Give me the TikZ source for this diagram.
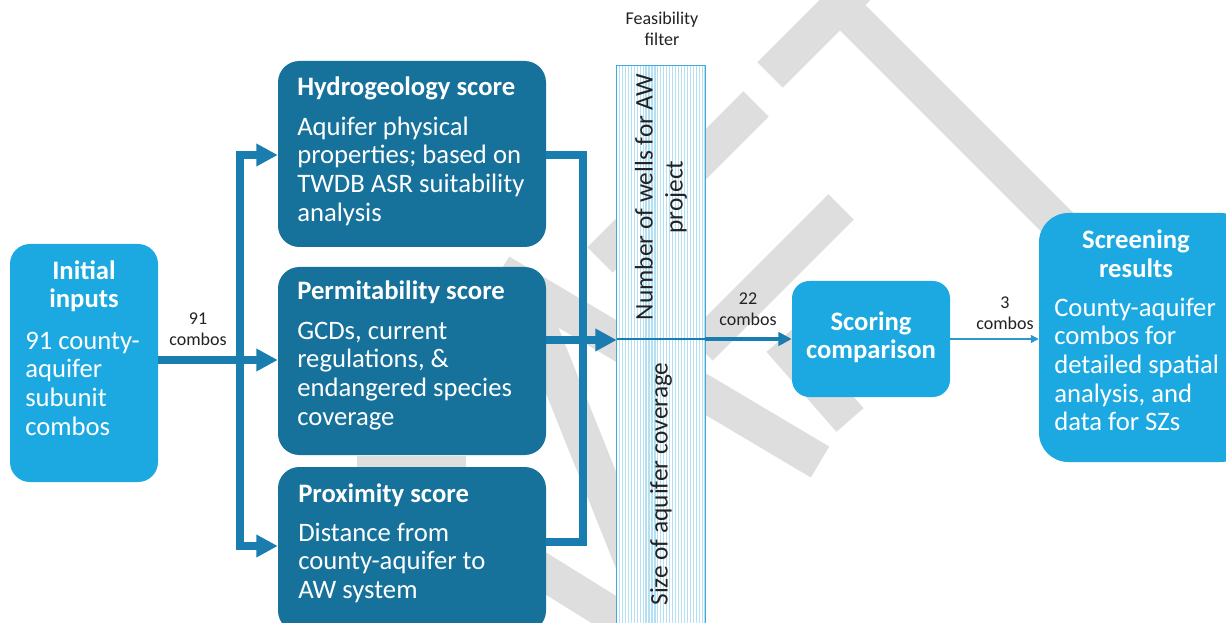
\documentclass[tikz,border=0pt]{standalone}
\usepackage{fontspec}
\setmainfont{Carlito}
\usetikzlibrary{arrows.meta,fit}
\definecolor{cyanbox}{HTML}{1CA9E1}
\definecolor{tealbox}{HTML}{16719B}
\definecolor{arrowc}{HTML}{1A7DAF}
\definecolor{thinarr}{HTML}{2D97C9}
\definecolor{wm}{HTML}{DEDEDE}
\definecolor{stripe}{HTML}{B3E1F3}
\definecolor{filtborder}{HTML}{3FA9DA}
\definecolor{txt}{HTML}{222222}
\newcommand\bodyf{\fontsize{20}{21.45}\selectfont}
\newcommand\smallf{\fontsize{13.5}{16}\selectfont}
\newcommand\rotf{\fontsize{19}{22.5}\selectfont}
\begin{document}
\begin{tikzpicture}[x=0.75pt,y=-0.75pt,
  boxc/.style={fill=cyanbox, inner sep=0, rounded corners=15pt},
  boxt/.style={fill=tealbox, inner sep=0, rounded corners=16pt},
  ttl/.style={anchor=base west, inner sep=0, font=\bfseries\bodyf, text=white},
  bdy/.style={anchor=north west, inner sep=0, align=left, font=\bodyf, text=white},
  lbl/.style={font=\smallf, align=center, text=txt, inner sep=0},
  thick line/.style={draw=arrowc, line width=5.5pt, line join=miter},
  bigtip/.style={-{Triangle[length=16pt,width=16pt]}},
  wmark/.style={draw=wm, line width=27pt, line cap=butt}]
\useasboundingbox (0,0) rectangle (1226,623);
\clip (0,0) rectangle (1226,623);
\fill[white] (0,0) rectangle (1226,623);

% watermark
\draw[wmark] (833,-2) -- (1110,275);
\draw[wmark] (770,75) -- (860,-15);
\draw[wmark] (756,104) -- (600,260);
\draw[wmark] (841,207) -- (700,348);
\draw[wmark] (500,272) -- (820,462);
\draw[wmark] (520,280) -- (640,580);
\draw[wmark] (780,340) -- (850,420);
\draw[wmark] (500,545) -- (640,632);
\draw[wmark] (357,474) -- (466,474);

% boxes
\node[boxc, fit={(10,244)(158,482)}] (init) {};
\node[boxt, fit={(278,61)(546,247)}] (hydro) {};
\node[boxt, fit={(278,267)(546,455)}] (perm) {};
\node[boxt, fit={(278,467)(546,632)}] (prox) {};
\node[boxc, rounded corners=13pt, fit={(792,281)(950,397)}] (score) {};
\node[boxc, rounded corners=22pt, fit={(1039,213)(1250,462)}] (screen) {};

% filter column
\node[fit={(617,66)(705,640)}, inner sep=0, fill=white] (filt) {};
\foreach \i in {0,...,29} \draw[stripe, line width=0.9pt] ({619.5+\i*2.95},66) -- ({619.5+\i*2.95},640);
\draw[filtborder, line width=0.9pt] (filt.south west) rectangle (filt.north east);
\draw[arrowc, line width=1.5pt] (filt.west |- 0,339) -- (filt.east |- 0,339);

% texts
\node[anchor=north, inner sep=0, align=center, font=\bfseries\fontsize{20}{21}\selectfont, text=white] (initt) at (84,260) {\strut Initial\\inputs};
\node[bdy] (initb) at (25,329) {\strut 91 county-\\aquifer\\subunit\\combos};

\node[ttl] (hydrot) at (297,96) {Hydrogeology score};
\node[bdy] (hydrob) at (297,115) {\strut Aquifer physical\\properties; based on\\TWDB ASR suitability\\analysis};

\node[ttl] (permt) at (297,300) {Permitability score};
\node[bdy] (permb) at (297,319) {\strut GCDs, current\\regulations, \&\\endangered species\\coverage};

\node[ttl] (proxt) at (298,502) {Proximity score};
\node[bdy] (proxb) at (298,521) {\strut Distance from\\county-aquifer to\\AW system};

\node[anchor=north, inner sep=0, align=center, font=\bfseries\fontsize{20}{21}\selectfont, text=white] (scoret) at (871,311) {\strut Scoring\\comparison};

\node[anchor=north, inner sep=0, align=center, font=\bfseries\fontsize{20}{21.75}\selectfont, text=white] (screent) at (1136,228) {\strut Screening\\results};
\node[bdy] (screenb) at (1054,296) {\strut County-aquifer\\combos for\\detailed spatial\\analysis, and\\data for SZs};

\node[rotate=90, align=center, font=\rotf, text=txt, inner sep=0] (wells) at (661,197) {Number of wells for AW\\project};
\node[rotate=90, font=\rotf, text=txt, inner sep=0] (size) at (661,484) {Size of aquifer coverage};

\node[lbl] (ff) at (662,29) {Feasibility\\filter};
\node[lbl] (l91) at (198,329) {91\\combos};
\node[lbl] (l22) at (748,309) {22\\combos};
\node[lbl] (l3) at (1005,313) {3\\combos};

% connectors
\coordinate (bt) at (240,155);
\coordinate (bb) at (240,546);
\coordinate (rb) at (583,542);
\draw[thick line, bigtip] (init.east |- 0,360) -- (perm.west |- 0,360);
\draw[thick line, {Triangle[length=16pt,width=16pt]}-{Triangle[length=16pt,width=16pt]}] (hydro.west |- bt) -- (bt) -- (bb) -- (prox.west |- bb);
\draw[thick line] (hydro.east |- bt) -| (rb) -- (prox.east |- rb);
\draw[thick line, bigtip] (perm.east |- 0,340) -- (filt.west |- 0,340);
\draw[draw=arrowc, line width=3pt, -{Triangle[length=10pt,width=10pt]}] (filt.east |- 0,339) -- (score.west |- 0,339);
\draw[draw=thinarr, line width=1.2pt, -{Triangle[length=6pt,width=6pt]}] (score.east |- 0,339) -- (screen.west |- 0,339);
\end{tikzpicture}
\end{document}
